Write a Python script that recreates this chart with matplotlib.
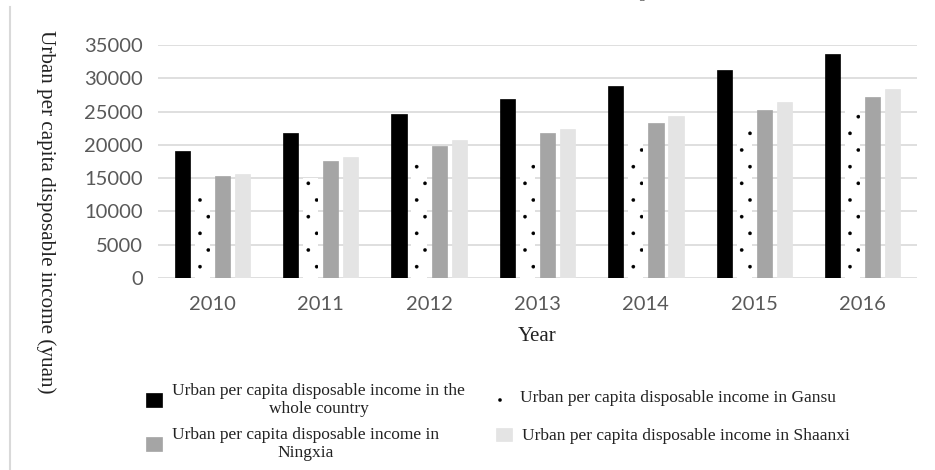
import numpy as np
import matplotlib
matplotlib.use('Agg')
import matplotlib.pyplot as plt
from matplotlib.lines import Line2D

years = ["2010", "2011", "2012", "2013", "2014", "2015", "2016"]
national = [19109, 21810, 24565, 26955, 28844, 31195, 33616]
gansu = [13189, 14989, 17157, 18965, 20804, 23767, 25693]
ningxia = [15344, 17579, 19831, 21833, 23285, 25186, 27153]
shaanxi = [15695, 18245, 20734, 22346, 24366, 26420, 28440]
yticks = [0, 5000, 10000, 15000, 20000, 25000, 30000, 35000]

labels = [
    "Urban per capita disposable income in the\nwhole country",
    "Urban per capita disposable income in Gansu",
    "Urban per capita disposable income in\nNingxia",
    "Urban per capita disposable income in Shaanxi",
]

SERIF = "Liberation Serif"
TICK_FONT = "Lato"
W, H = 935, 470

plt.rcParams['hatch.linewidth'] = 0.2

fig = plt.figure(figsize=(W / 100, H / 100), dpi=100)
ax = fig.add_axes([158 / W, 1 - 278 / H, (917 - 158) / W, (278 - 45) / H])

x = np.arange(len(years))
step = 0.185
width = 0.14

b_nat = ax.bar(x - 1.5 * step, national, width, color="#000000", edgecolor="#000000", linewidth=0.5, zorder=3)
b_gs = ax.bar(x - 0.5 * step, gansu, width, color="white", edgecolor="#000000", linewidth=0, hatch=".", zorder=3)
b_nx = ax.bar(x + 0.5 * step, ningxia, width, color="#a5a5a5", edgecolor="#a5a5a5", linewidth=0.5, zorder=3)
b_sx = ax.bar(x + 1.5 * step, shaanxi, width, color="#e4e4e4", edgecolor="#e4e4e4", linewidth=0.5, zorder=3)

ax.set_xlim(-0.5, len(years) - 0.5)
ax.set_ylim(0, 35000)
ax.set_yticks(yticks)
ax.set_xticks(x)
ax.set_xticklabels(years)
ax.yaxis.grid(True, color="#d9d9d9", linewidth=1.2, zorder=0)
ax.set_axisbelow(True)
for s in ax.spines.values():
    s.set_visible(False)
ax.tick_params(axis="both", length=0, labelcolor="#595959", labelsize=14.5)
ax.tick_params(axis="y", pad=11)
ax.tick_params(axis="x", pad=13)
for t in ax.get_xticklabels() + ax.get_yticklabels():
    t.set_fontfamily(TICK_FONT)

ax.set_xlabel("Year", fontfamily=SERIF, fontsize=15, labelpad=10, color="#222222")
fig.text(46 / W, 1 - 212 / H, "Urban per capita disposable income (yuan)",
         rotation=270, ha="center", va="center", fontfamily=SERIF, fontsize=15.2, color="#222222")

# one legend per entry so each can sit where it belongs (left edge x, centre y in pixels)
legend_items = [
    (b_nat, labels[0], 146, 400),
    (b_gs, labels[1], 494, 398),
    (b_nx, labels[2], 146, 444),
    (b_sx, labels[3], 496, 436),
]
for handle, text, lx, ly in legend_items:
    leg = fig.legend([handle], [text], frameon=False, loc="center left",
                     bbox_to_anchor=(lx / W, 1 - ly / H), borderaxespad=0, borderpad=0,
                     prop={"family": SERIF, "size": 12.5},
                     handlelength=0.92, handleheight=0.8, handletextpad=0.6)
    for t in leg.get_texts():
        t.set_multialignment("center")
        t.set_color("#222222")
        t.set_linespacing(1.15)

# frame line on the left edge and the source note cut off at the top
fig.add_artist(Line2D([10 / W, 10 / W], [0, 1 - 7 / H], color="#d9d9d9", linewidth=1.5))
fig.text(1.01, 1 + 1.5 / H, "Source: China Statistical Yearbook, Gansu, Ningxia and Shaanxi Statistical Yearbook, 2011-2017",
         ha="right", va="baseline", fontfamily=SERIF, fontsize=11, color="#555555", style="italic")

fig.savefig("out.png", dpi=100, facecolor="white")
